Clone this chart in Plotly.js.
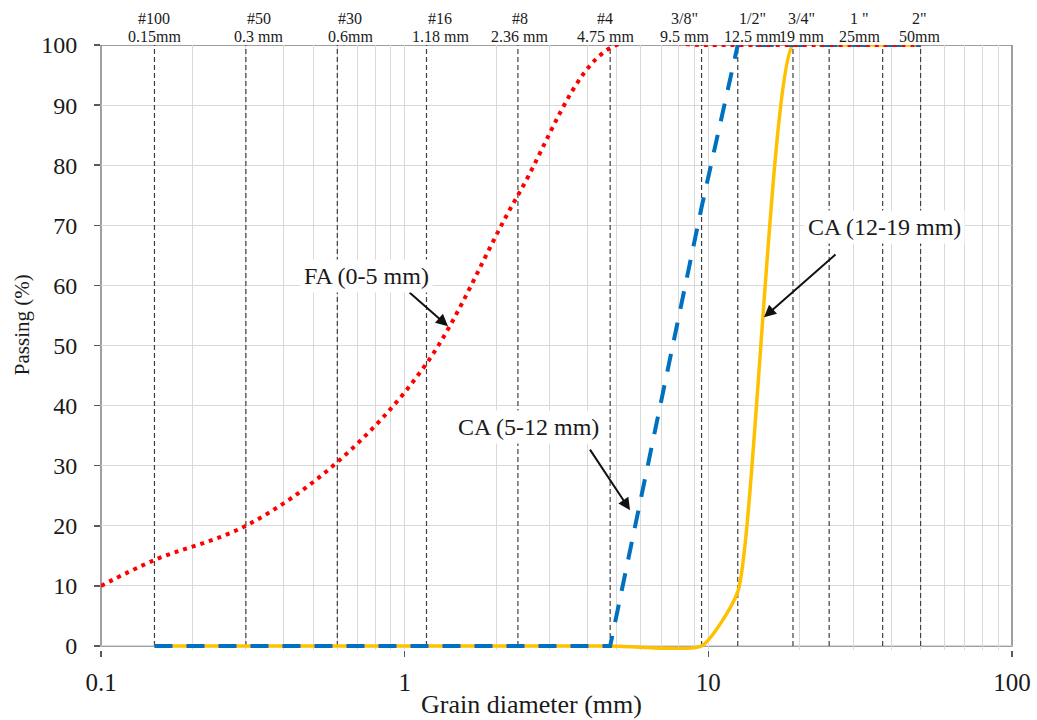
<!DOCTYPE html>
<html>
<head>
<meta charset="utf-8">
<script src="https://cdn.plot.ly/plotly-3.0.1.min.js"></script>
<style>
  html, body { margin: 0; padding: 0; background: #ffffff; }
  #chart { width: 1037px; height: 720px; }
</style>
</head>
<body>
<div id="chart"></div>
<script>
// ---- data ----
const sieveSizes = [0.15, 0.3, 0.6, 1.18, 2.36, 4.75, 9.5, 12.5, 19, 25, 37.5, 50];
const faSizes    = [0.1, 0.15, 0.3, 0.6, 1.18, 2.36, 4.75, 9.5, 12.5, 19, 25, 37.5, 50];
const faPassing  = [10, 14.3, 20, 30.6, 47, 75, 99.5, 100, 100, 100, 100, 100, 100];
const ca5Passing  = [0, 0, 0, 0, 0, 0, 73, 100, 100, 100, 100, 100];
const ca12Passing = [0, 0, 0, 0, 0, 0, 0, 9, 100, 100, 100, 100];
const labelSizes = [0.15, 0.3, 0.6, 1.18, 2.36, 4.75, 9.5, 12.5, 19, 25, 50];
const sieveNames = ['#100', '#50', '#30', '#16', '#8', '#4', '3/8"', '1/2"', '3/4"', '1 "', '2"'];
const sieveMm    = ['0.15mm', '0.3 mm', '0.6mm', '1.18 mm', '2.36 mm', '4.75 mm', '9.5 mm', '12.5 mm', '19 mm', '25mm', '50mm'];
const seriesNames = ['FA (0-5 mm)', 'CA (5-12 mm)', 'CA (12-19 mm)'];

// ---- layout helpers (style / placement only) ----
const labelShift = [0, 13, 13, 14, 2, -5, -17, 15, 9, 30, -1];
const FONT = 'Liberation Serif, Times New Roman, serif';
const TXT = '#1a1a1a';

// dashed sieve reference lines built from sieve sizes
const sx = [], sy = [];
sieveSizes.forEach(s => { sx.push(s, s, null); sy.push(0, 100, null); });

const traces = [
  { x: sx, y: sy, mode: 'lines', line: { color: '#404040', width: 1.2, dash: '5px,3px' },
    hoverinfo: 'skip', showlegend: false },
  { x: sieveSizes, y: ca12Passing, name: seriesNames[2], mode: 'lines',
    line: { color: '#FFC000', width: 3.5, shape: 'spline', smoothing: 0.5 } },
  { x: sieveSizes, y: ca5Passing, name: seriesNames[1], mode: 'lines',
    line: { color: '#0070C0', width: 4, dash: '18px,14px' } },
  { x: faSizes, y: faPassing, name: seriesNames[0], mode: 'lines',
    line: { color: '#FF0000', width: 4, dash: '4px,5px', shape: 'spline', smoothing: 1 } }
];

const annotations = [];
labelSizes.forEach((s, i) => {
  annotations.push({ x: Math.log10(s), xref: 'x', y: 1.0446, yref: 'paper', xshift: labelShift[i],
    text: sieveNames[i], showarrow: false, xanchor: 'center', yanchor: 'middle',
    font: { family: FONT, size: 16, color: TXT } });
  annotations.push({ x: Math.log10(s), xref: 'x', y: 1.0135, yref: 'paper', xshift: labelShift[i],
    text: sieveMm[i], showarrow: false, xanchor: 'center', yanchor: 'middle',
    font: { family: FONT, size: 16, color: TXT } });
});

// series labels with arrows
const labelDefs = [
  { text: seriesNames[0], tx: -0.1273, ty: 61.6, hx: 0.1427, hy: 53.2, ax: -40, ay: -35 },
  { text: seriesNames[1], tx: 0.4094, ty: 36.4, hx: 0.742, hy: 22.6, ax: -41, ay: -62 },
  { text: seriesNames[2], tx: 1.5817, ty: 69.7, hx: 1.1833, hy: 54.7, ax: 73, ay: -64 }
];
labelDefs.forEach(d => {
  annotations.push({ x: d.hx, y: d.hy, xref: 'x', yref: 'y', text: '', showarrow: true,
    ax: d.ax, ay: d.ay, arrowhead: 2, arrowsize: 1.2, arrowwidth: 2, arrowcolor: '#111111', standoff: 0 });
  annotations.push({ x: d.tx, y: d.ty, xref: 'x', yref: 'y', text: d.text, showarrow: false,
    xanchor: 'center', yanchor: 'middle', bgcolor: '#ffffff', borderpad: 3,
    font: { family: FONT, size: 24, color: TXT } });
});

// axis titles
annotations.push({ x: 0.4726, y: -0.0909, xref: 'paper', yref: 'paper', text: 'Grain diameter (mm)',
  showarrow: false, xanchor: 'center', yanchor: 'middle', font: { family: FONT, size: 26, color: TXT } });
annotations.push({ x: -0.0867, y: 0.537, xref: 'paper', yref: 'paper', text: 'Passing (%)', textangle: -90,
  showarrow: false, xanchor: 'center', yanchor: 'middle', font: { family: FONT, size: 21, color: TXT } });

const layout = {
  width: 1037, height: 720,
  margin: { l: 101, r: 25, t: 45, b: 70 },
  paper_bgcolor: '#ffffff', plot_bgcolor: '#ffffff',
  showlegend: false,
  font: { family: FONT, color: TXT },
  xaxis: {
    type: 'log', range: [-1, 2], dtick: 1,
    showgrid: true, gridcolor: '#d9d9d9', gridwidth: 1,
    minor: { dtick: 'D1', showgrid: true, gridcolor: '#d9d9d9', gridwidth: 1, ticks: '' },
    zeroline: false, showline: false,
    ticks: 'outside', ticklen: 6, tickwidth: 1.5, tickcolor: '#595959',
    ticklabelstandoff: 4,
    tickfont: { family: FONT, size: 25, color: TXT }
  },
  yaxis: {
    range: [-0.67, 100], tick0: 0, dtick: 10,
    showgrid: true, gridcolor: '#d9d9d9', gridwidth: 1,
    zeroline: false, showline: false,
    ticks: 'outside', ticklen: 6, tickwidth: 1.5, tickcolor: '#595959',
    ticklabelstandoff: 12,
    tickfont: { family: FONT, size: 24, color: TXT }
  },
  shapes: [
    { type: 'rect', xref: 'paper', yref: 'y', x0: 0, x1: 1, y0: 0, y1: 100,
      line: { color: '#808080', width: 1.5 }, layer: 'below' }
  ],
  annotations: annotations
};

Plotly.newPlot('chart', traces, layout, { displayModeBar: false, staticPlot: true });
</script>
</body>
</html>
